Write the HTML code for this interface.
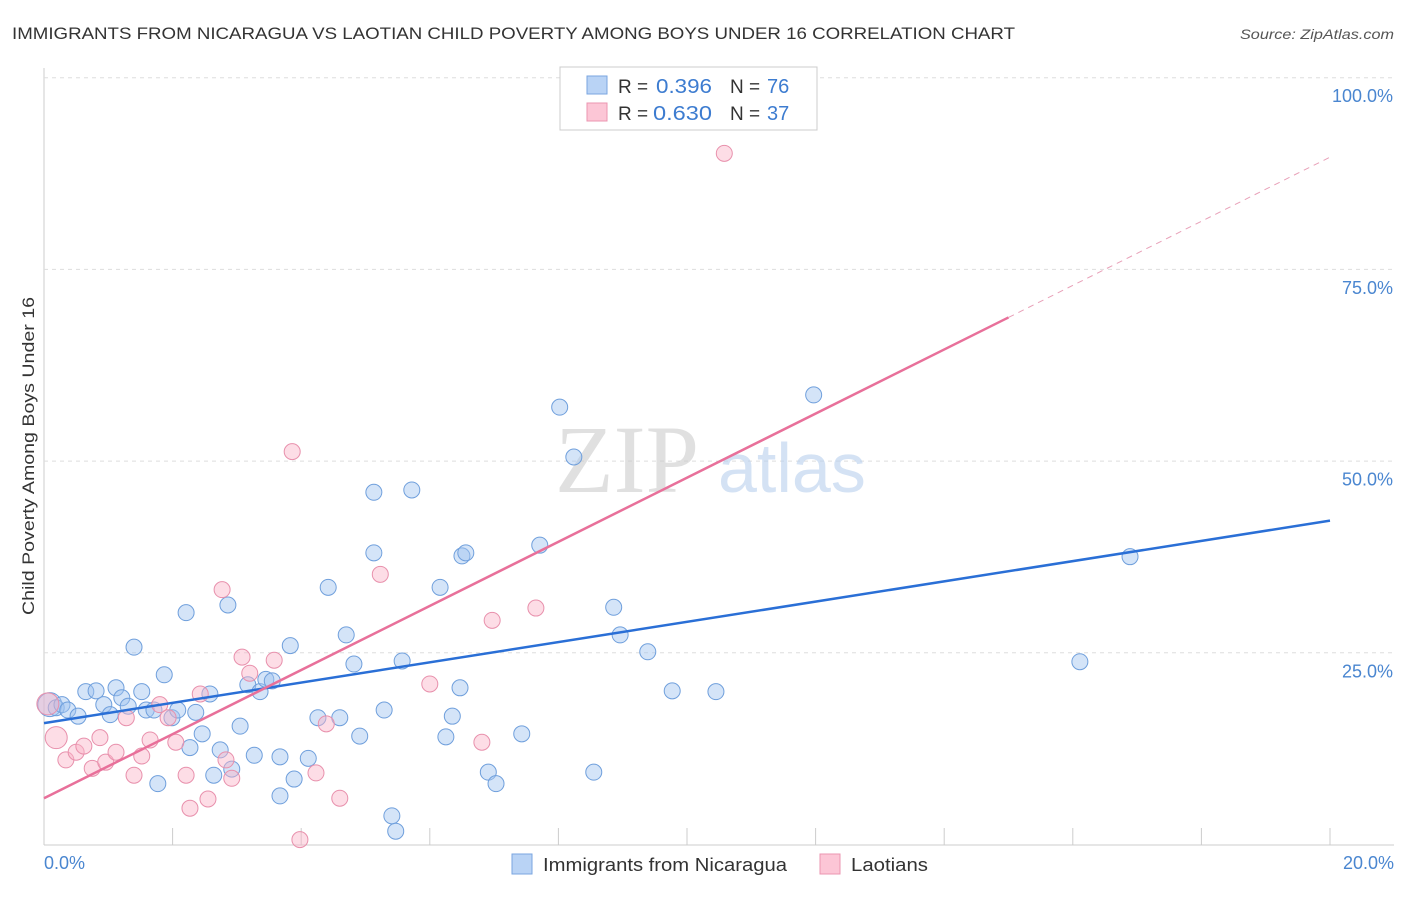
<!DOCTYPE html>
<html><head><meta charset="utf-8"><style>
body{margin:0;background:#fff;font-family:"Liberation Sans",sans-serif;}
</style></head><body>
<svg width="1406" height="892" xmlns="http://www.w3.org/2000/svg" font-family="Liberation Sans, sans-serif">
<text x="12" y="39" font-size="17" fill="#333" textLength="1003" lengthAdjust="spacingAndGlyphs">IMMIGRANTS FROM NICARAGUA VS LAOTIAN CHILD POVERTY AMONG BOYS UNDER 16 CORRELATION CHART</text>
<text x="1240" y="39" font-size="14" fill="#555" font-style="italic" textLength="154" lengthAdjust="spacingAndGlyphs">Source: ZipAtlas.com</text>
<g id="grid"></g>
<text x="555" y="492" font-size="96" fill="#ccc" opacity="0.6" font-family="Liberation Serif, serif">ZIP</text>
<text x="718" y="492" font-size="70" fill="#b8d0ee" opacity="0.6">atlas</text>
<g id="pts"></g>
<g id="lines"></g>
<text transform="translate(34,456) rotate(-90)" font-size="17" fill="#333" text-anchor="middle" textLength="318" lengthAdjust="spacingAndGlyphs">Child Poverty Among Boys Under 16</text>
<text x="44" y="869" font-size="18" fill="#4a86d0">0.0%</text>
<text x="1394" y="869" font-size="18" fill="#4a86d0" text-anchor="end">20.0%</text>
<g>
<rect x="560" y="67" width="257" height="63" fill="#fff" stroke="#ccc"/>
<rect x="587" y="76" width="20" height="18" fill="#b9d3f5" stroke="#7aa6e0"/>
<rect x="587" y="103" width="20" height="18" fill="#fcc6d6" stroke="#eb95b0"/>
<text x="618" y="93" font-size="19" fill="#333">R =</text>
<text x="656" y="93" font-size="20" fill="#3d7cd0" textLength="56" lengthAdjust="spacingAndGlyphs">0.396</text>
<text x="730" y="93" font-size="19" fill="#333">N =</text>
<text x="767" y="93" font-size="20" fill="#3d7cd0">76</text>
<text x="618" y="120" font-size="19" fill="#333">R =</text>
<text x="653" y="120" font-size="20" fill="#3d7cd0" textLength="59" lengthAdjust="spacingAndGlyphs">0.630</text>
<text x="730" y="120" font-size="19" fill="#333">N =</text>
<text x="767" y="120" font-size="20" fill="#3d7cd0">37</text>
</g>
<g>
<rect x="512" y="854" width="20" height="20" fill="#b9d3f5" stroke="#7aa6e0"/>
<text x="543" y="871" font-size="18" fill="#333" textLength="244" lengthAdjust="spacingAndGlyphs">Immigrants from Nicaragua</text>
<rect x="820" y="854" width="20" height="20" fill="#fcc6d6" stroke="#eb95b0"/>
<text x="851" y="871" font-size="18" fill="#333" textLength="77" lengthAdjust="spacingAndGlyphs">Laotians</text>
</g>
</svg>
<script>
const yTicks=[25,50,75,100];
const yTickLabels=["25.0%","50.0%","75.0%","100.0%"];
const xTicks=[2,4,6,8,10,12,14,16,18,20];
const blueX=[0.09,0.19,0.28,0.37,0.53,0.65,0.81,0.93,1.03,1.12,1.21,1.31,1.40,1.52,1.59,1.71,1.77,1.87,1.99,2.08,2.21,2.27,2.36,2.46,2.58,2.64,2.74,2.86,2.92,3.05,3.17,3.27,3.36,3.45,3.55,3.67,3.83,3.89,3.67,4.11,4.26,4.42,4.60,4.70,4.82,4.91,5.13,5.13,5.29,5.41,5.47,5.57,5.72,6.16,6.25,6.35,6.47,6.50,6.56,6.91,7.03,7.43,7.71,8.02,8.24,8.55,8.86,8.96,9.39,9.77,10.45,11.97,16.11,16.89];
const blueY=[18.3,17.9,18.3,17.6,16.8,20.0,20.1,18.3,17.0,20.5,19.2,18.1,25.8,20.0,17.6,17.6,8.0,22.2,16.6,17.6,30.3,12.7,17.3,14.5,19.7,9.1,12.4,31.3,9.9,15.5,20.9,11.7,20.0,21.6,21.4,11.5,26.0,8.6,6.4,11.3,16.6,33.6,16.6,27.4,23.6,14.2,46.0,38.1,17.6,3.8,1.8,24.0,46.3,33.6,14.1,16.8,20.5,37.7,38.1,9.5,8.0,14.5,39.1,57.1,50.6,9.5,31.0,27.4,25.2,20.1,20.0,58.7,23.9,37.6];
const pinkX=[0.06,0.19,0.34,0.50,0.62,0.75,0.87,0.96,1.12,1.28,1.40,1.52,1.65,1.80,1.93,2.05,2.21,2.27,2.43,2.55,2.77,2.83,2.92,3.08,3.20,3.58,3.86,3.98,4.23,4.39,4.60,5.23,6.00,6.81,6.97,7.65,10.58];
const pinkY=[18.4,14.0,11.1,12.1,12.9,10.0,14.0,10.8,12.1,16.6,9.1,11.6,13.7,18.3,16.6,13.4,9.1,4.8,19.7,6.0,33.3,11.1,8.7,24.5,22.4,24.1,51.3,0.7,9.4,15.8,6.1,35.3,21.0,13.4,29.3,30.9,90.2];
const blueFit=[15.9,42.3];
const pinkFit=[6.1,68.8];
const X=v=>44+v*64.3, Y=v=>845-v*7.668;
const NS="http://www.w3.org/2000/svg";
function mk(tag,attrs,parent){const e=document.createElementNS(NS,tag);for(const k in attrs)e.setAttribute(k,attrs[k]);parent.appendChild(e);return e;}
const grid=document.getElementById('grid');
let ax=mk('line',{x1:44,y1:68,x2:44,y2:845,stroke:'#ccc'},grid);


let xa=mk('line',{x1:44,y1:845,x2:1394,y2:845,stroke:'#ccc'},grid);


yTicks.forEach((t,i)=>{
 const g=mk('line',{x1:44,x2:1394,y1:Y(t)-0.5,y2:Y(t)-0.5,stroke:'#ddd','stroke-dasharray':'4,4'},grid);
 
 
 const l=mk('text',{x:1393,y:Y(t)+24,'font-size':18,fill:'#4a86d0','text-anchor':'end'},grid);
 l.textContent=yTickLabels[i];
 
 
});
xTicks.forEach(t=>{
 const m=mk('line',{x1:X(t),x2:X(t),y1:828,y2:845,stroke:'#ccc'},grid);
 
 
});
const pts=document.getElementById('pts');
blueX.forEach((x,i)=>{
 const c=mk('circle',{cx:X(x),cy:Y(blueY[i]),r:i==0?12:8,fill:'rgba(160,196,240,0.45)',stroke:'#6f9fdc','stroke-width':1},pts);
 
 
});
pinkX.forEach((x,i)=>{
 const c=mk('circle',{cx:X(x),cy:Y(pinkY[i]),r:i<2?11:8,fill:'rgba(250,180,200,0.45)',stroke:'#e890ac','stroke-width':1},pts);
 
 
});
const lines=document.getElementById('lines');
const bl=mk('line',{x1:X(0),y1:Y(blueFit[0]),x2:X(20),y2:Y(blueFit[1]),stroke:'#2a6fd6','stroke-width':2.5},lines);


const pl=mk('line',{x1:X(0),y1:Y(pinkFit[0]),x2:X(15),y2:Y(pinkFit[1]),stroke:'#e8709a','stroke-width':2.5},lines);


const slope=(pinkFit[1]-pinkFit[0])/15;
const pd=mk('line',{x1:X(15),y1:Y(pinkFit[1]),x2:X(20),y2:Y(pinkFit[0]+slope*20),stroke:'#e8a0b8','stroke-width':1,'stroke-dasharray':'6,5'},lines);


</script>
</body></html>
